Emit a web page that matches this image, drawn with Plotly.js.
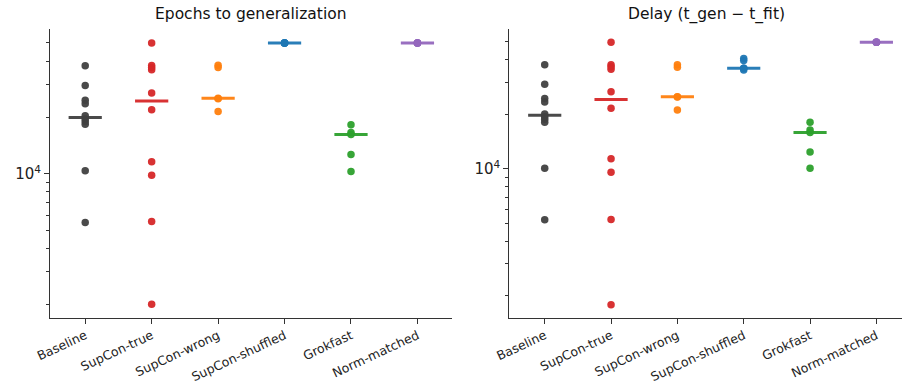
<!DOCTYPE html>
<html>
<head>
<meta charset="utf-8">
<script src="https://cdn.plot.ly/plotly-3.0.1.min.js"></script>
<style>html,body{margin:0;padding:0;background:#fff;}#chart{width:902px;height:388px;}</style>
</head>
<body>
<div id="chart"></div>
<script>
// ---- data ----
var categories = ["Baseline", "SupCon-true", "SupCon-wrong", "SupCon-shuffled", "Grokfast", "Norm-matched"];
var colors = ["#404040", "#d62728", "#ff7f0e", "#1f77b4", "#2ca02c", "#9467bd"];

// Epochs to generalization
var epochsBaseline = [37800, 29600, 24700, 23700, 20400, 19600, 19000, 18400, 10400, 5500];
var epochsSupConTrue = [50000, 37900, 37000, 36000, 27000, 22000, 11600, 9840, 5570, 2010];
var epochsSupConWrong = [38000, 37000, 25300, 25200, 21500];
var epochsSupConShuffled = [50000, 50000, 50000, 50000, 50000];
var epochsGrokfast = [18300, 16600, 16200, 12700, 10300];
var epochsNormMatched = [50000, 50000, 50000, 50000, 50000];

// Delay (t_gen - t_fit)
var delayBaseline = [37500, 29300, 24400, 23400, 20100, 19400, 18800, 18100, 10100, 5250];
var delaySupConTrue = [49800, 37500, 36500, 35400, 26600, 21600, 11400, 9590, 5280, 1790];
var delaySupConWrong = [37500, 36300, 25000, 24900, 21100];
var delaySupConShuffled = [40600, 39500, 35800, 35800, 35000];
var delayGrokfast = [18100, 16400, 15900, 12400, 10100];
var delayNormMatched = [49800, 49800, 49800, 49800, 49800];

var yMajorTicks = [10000];
var yMajorText = ["10<sup>4</sup>"];
var yMinorTicks = [2000, 3000, 4000, 5000, 6000, 7000, 8000, 9000, 20000, 30000, 40000, 50000];

var epochsGroups = [epochsBaseline, epochsSupConTrue, epochsSupConWrong, epochsSupConShuffled, epochsGrokfast, epochsNormMatched];
var delayGroups = [delayBaseline, delaySupConTrue, delaySupConWrong, delaySupConShuffled, delayGrokfast, delayNormMatched];

function median(a) {
  var s = a.slice().sort(function (p, q) { return p - q; });
  var n = s.length;
  return n % 2 ? s[(n - 1) / 2] : (s[n / 2 - 1] + s[n / 2]) / 2;
}

var traces = [];
function addPanel(groups, xa, ya) {
  groups.forEach(function (vals, i) {
    var m = median(vals);
    traces.push({
      type: "scatter", mode: "lines", xaxis: xa, yaxis: ya,
      x: [i - 0.25, i + 0.25], y: [m, m],
      line: { color: colors[i], width: 3 }, opacity: 0.95,
      hoverinfo: "skip", showlegend: false
    });
  });
  groups.forEach(function (vals, i) {
    traces.push({
      type: "scatter", mode: "markers", xaxis: xa, yaxis: ya,
      x: vals.map(function () { return i; }), y: vals,
      marker: { color: colors[i], size: 7.5, opacity: 0.95, line: { width: 0 } },
      name: categories[i], showlegend: false
    });
  });
}
addPanel(epochsGroups, "x", "y");
addPanel(delayGroups, "x2", "y2");

var axisColor = "#333333";
function xAxis(domain, range) {
  return {
    domain: domain, range: range, tickmode: "array",
    tickvals: categories.map(function (c, i) { return i; }), ticktext: categories,
    tickangle: -25, tickfont: { size: 12.5, color: "#222" },
    showline: true, linecolor: axisColor, linewidth: 1,
    ticks: "outside", ticklen: 5, tickwidth: 1, tickcolor: axisColor,
    showgrid: false, zeroline: false, fixedrange: true
  };
}
function yAxis(range, anchor) {
  return {
    type: "log", domain: [0.1812, 0.9245], range: range, anchor: anchor,
    tickmode: "array", tickvals: yMajorTicks, ticktext: yMajorText,
    tickfont: { size: 15, color: "#222" },
    showline: true, linecolor: axisColor, linewidth: 1,
    ticks: "outside", ticklen: 5, tickwidth: 1, tickcolor: axisColor,
    minor: { tickmode: "array", tickvals: yMinorTicks, ticks: "outside", ticklen: 3, tickwidth: 1, tickcolor: axisColor, showgrid: false },
    showgrid: false, zeroline: false, fixedrange: true
  };
}

var layout = {
  width: 902, height: 388,
  margin: { l: 0, r: 0, t: 0, b: 0 },
  paper_bgcolor: "#ffffff", plot_bgcolor: "#ffffff",
  font: { family: "DejaVu Sans, sans-serif", color: "#222" },
  showlegend: false,
  xaxis: Object.assign(xAxis([0.05543, 0.50111], [-0.53, 5.52]), { anchor: "y" }),
  yaxis: yAxis([3.232, 4.7717], "x"),
  xaxis2: Object.assign(xAxis([0.56463, 1.0], [-0.534, 5.386]), { anchor: "y2" }),
  yaxis2: yAxis([3.1816, 4.7688], "x2"),
  annotations: [
    { text: "Epochs to generalization", xref: "paper", yref: "paper", x: 0.27827, y: 1 - 14.5 / 388,
      xanchor: "center", yanchor: "middle", showarrow: false, font: { size: 15.5, color: "#111" } },
    { text: "Delay (t_gen \u2212 t_fit)", xref: "paper", yref: "paper", x: 0.78271, y: 1 - 14.5 / 388,
      xanchor: "center", yanchor: "middle", showarrow: false, font: { size: 15.5, color: "#111" } }
  ]
};

Plotly.newPlot("chart", traces, layout, { displayModeBar: false, staticPlot: true });
</script>
</body>
</html>
